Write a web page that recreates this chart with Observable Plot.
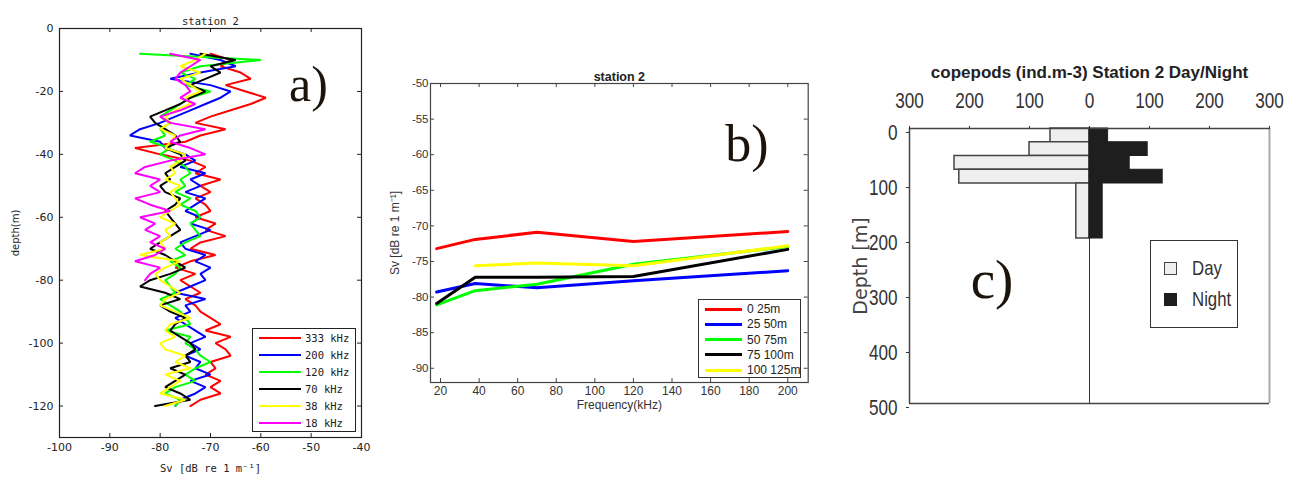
<!DOCTYPE html>
<html><head><meta charset="utf-8">
<script src="https://cdn.jsdelivr.net/npm/d3@7"></script>
<script src="https://cdn.jsdelivr.net/npm/@observablehq/plot@0.6"></script>
<style>
html,body{margin:0;padding:0;background:#fff;}
#page{position:relative;width:1291px;height:481px;overflow:hidden;background:#fff;}
.panel{position:absolute;top:0;}
.panel svg{background:transparent !important;}
.legend{position:absolute;box-sizing:border-box;background:#fff;}
.legend .sw{position:absolute;}
.legend .lb{position:absolute;white-space:nowrap;transform-origin:0 50%;}
</style></head><body><div id="page"></div>
<script>
// ---------- Panel a: Sv profiles by frequency ----------
const depthA = [-8,-10,-12,-14,-16,-18,-20,-22,-24,-26,-28,-30,-32,-34,-36,-38,-40,-42,-44,-46,-48,-50,-52,-54,-56,-58,-60,-62,-64,-66,-68,-70,-72,-74,-76,-78,-80,-82,-84,-86,-88,-90,-92,-94,-96,-98,-100,-102,-104,-106,-108,-110,-112,-114,-116,-118,-120];
const freqA = ["333 kHz","200 kHz","120 kHz","70 kHz","38 kHz","18 kHz"];
const colorsA = ["#ff0000","#0000ff","#00ff00","#000000","#ffff00","#ff00ff"];
const sv333 = [-70,-66,-68,-64,-62,-67,-63,-59,-62,-66,
  -70,-73,-67,-72,-75,-85,-80,-74,-71,-73,
  -68,-72,-70,-73,-71,-70,-73,-69,-71,-67,
  -72,-74,-69,-74,-77,-73,-76,-74,-72,-75,
  -73,-72,-70,-68,-71,-66,-69,-67,-66,-70,
  -69,-71,-68,-70,-68,-72,-74];
const sv200 = [-74,-68,-65,-72,-78,-70,-66,-68,-71,-74,
  -77,-80,-84,-86,-80,-79,-75,-73,-76,-71,
  -74,-72,-75,-71,-73,-75,-72,-74,-70,-73,
  -76,-75,-71,-73,-70,-72,-71,-74,-77,-71,
  -75,-74,-77,-75,-73,-71,-74,-72,-75,-72,
  -73,-70,-74,-71,-73,-76,-77];
const sv120 = [-84,-60,-72,-76,-73,-75,-70,-74,-76,-78,
  -80,-78,-80,-79,-82,-78,-80,-77,-75,-74,
  -76,-75,-77,-74,-76,-73,-72,-74,-73,-72,
  -75,-77,-75,-78,-76,-77,-79,-78,-77,-80,
  -78,-76,-75,-74,-79,-74,-75,-73,-72,-70,
  -73,-75,-73,-77,-79,-76,-77];
const sv70 = [-72,-65,-70,-68,-71,-74,-71,-74,-76,-79,
  -82,-81,-79,-77,-76,-79,-76,-75,-77,-79,
  -78,-80,-79,-76,-77,-79,-78,-77,-76,-78,
  -80,-82,-79,-77,-75,-78,-82,-84,-79,-76,
  -80,-78,-75,-77,-78,-76,-74,-73,-75,-74,
  -78,-75,-77,-79,-76,-74,-81];
const sv38 = [-71,-73,-76,-72,-76,-74,-72,-75,-74,-77,
  -79,-78,-80,-77,-78,-79,-75,-76,-78,-77,
  -79,-76,-78,-77,-76,-78,-80,-77,-79,-78,
  -80,-79,-84,-76,-79,-81,-80,-78,-76,-79,
  -80,-77,-74,-78,-79,-77,-80,-79,-75,-77,
  -74,-79,-76,-78,-80,-75,-79];
const sv18 = [-78,-72,-74,-76,-77,-75,-74,-76,-73,-76,
  -80,-78,-71,-76,-78,-74,-71,-78,-83,-85,
  -80,-82,-80,-85,-82,-78,-84,-81,-83,-80,
  -82,-79,-81,-85,-80,-82,-83];
const xTicksA = [-100,-90,-80,-70,-60,-50,-40];
const yTicksA = [0,-20,-40,-60,-80,-100,-120];

// ---------- Panel b: mean Sv vs frequency by layer ----------
const freqB = [18,38,70,120,200];
const layersB = ["0 25m","25 50m","50 75m","75 100m","100 125m"];
const colorsB = ["#ff0000","#0000ff","#00ff00","#000000","#ffff00"];
const svL0 = [-73.2,-71.9,-70.9,-72.2,-70.8];
const svL1 = [-79.3,-78.1,-78.7,-77.7,-76.3];
const svL2 = [-81.1,-79.1,-78.2,-75.4,-72.9];
const svL3 = [-80.9,-77.2,-77.2,-77.1,-73.3];
const svL4 = [null,-75.6,-75.2,-75.6,-72.8];
const xTicksB = [20,40,60,80,100,120,140,160,180,200];
const yTicksB = [-50,-55,-60,-65,-70,-75,-80,-85,-90];

// ---------- Panel c: copepods day/night ----------
const binTop = [0,25,50,75,100];
const binBottom = [25,50,75,100,200];
const dayC = [65,100,225,217,22];
const nightC = [31,97,67,122,22];
const xTicksC = [-300,-200,-100,0,100,200,300];
const yTicksC = [0,100,200,300,400,500];

const page = document.getElementById("page");
function place(node, left, width){
  const d = document.createElement("div");
  d.className = "panel"; d.style.left = left + "px"; d.style.width = width + "px";
  d.appendChild(node); page.appendChild(d);
}
const hy = d => String(d);
const serif = "'Liberation Serif', 'DejaVu Serif', serif";
const ink = "#1c140a";

// inward tick marks drawn as short rules against the frame edges
function inwardTicks(xt, yt, fw, fh, len, stroke){
  return [
    Plot.ruleX(xt, {insetTop: fh - len, stroke, strokeWidth: 1}),
    Plot.ruleX(xt, {insetBottom: fh - len, stroke, strokeWidth: 1}),
    Plot.ruleY(yt, {insetRight: fw - len, stroke, strokeWidth: 1}),
    Plot.ruleY(yt, {insetLeft: fw - len, stroke, strokeWidth: 1})
  ];
}

// Panel a
const rowsA = [sv333, sv200, sv120, sv70, sv38, sv18].flatMap((arr, i) =>
  arr.map((v, j) => ({freq: freqA[i], sv: v, depth: depthA[j]})));
const monoA = "'DejaVu Sans Mono', monospace";
const plotA = Plot.plot({
  width: 380, height: 481,
  marginLeft: 59, marginRight: 19, marginTop: 28, marginBottom: 44,
  x: {domain: [-100, -40]},
  y: {domain: [-130, 0]},
  color: {domain: freqA, range: colorsA},
  style: {fontFamily: "'DejaVu Sans', sans-serif", fontSize: "11px", color: "#222", background: "transparent"},
  marks: [
    Plot.line(rowsA, {x: "sv", y: "depth", z: "freq", stroke: "freq", strokeWidth: 2, strokeLinejoin: "miter"}),
    ...inwardTicks(xTicksA, yTicksA, 302, 409, 4, "#222"),
    Plot.frame({stroke: "#222", strokeWidth: 1.2}),
    Plot.axisX({anchor: "bottom", ticks: xTicksA, tickSize: 0, tickPadding: 6, tickFormat: hy, label: null}),
    Plot.axisY({anchor: "left", ticks: yTicksA, tickSize: 0, tickPadding: 6, tickFormat: hy, label: null}),
    Plot.text(["station 2"], {frameAnchor: "top", dy: -11, fontFamily: monoA, fontSize: 10.5}),
    Plot.text(["Sv [dB re 1 m\u207B\u00B9]"], {frameAnchor: "bottom", dy: 34, fontFamily: monoA, fontSize: 10.5}),
    Plot.text(["depth(m)"], {frameAnchor: "left", dx: -44, rotate: -90, textAnchor: "middle", fontSize: 10}),
    Plot.text(["a)"], {frameAnchor: "top-left", dx: 249, dy: 72, lineAnchor: "bottom", textAnchor: "middle", fontFamily: serif, fontSize: 50, fill: ink})
  ]
});
place(plotA, 0, 380);

// Panel b
const rowsB = [svL0, svL1, svL2, svL3, svL4].flatMap((arr, i) =>
  arr.map((v, j) => ({layer: layersB[i], f: freqB[j], sv: v})).filter(d => d.sv != null));
const sansB = "'Liberation Sans', Arial, sans-serif";
const plotB = Plot.plot({
  width: 450, height: 481,
  marginLeft: 50, marginRight: 22.3, marginTop: 83, marginBottom: 99,
  x: {domain: [14.8, 210.6]},
  y: {domain: [-92, -50]},
  color: {domain: layersB, range: colorsB},
  style: {fontFamily: sansB, fontSize: "11.5px", color: "#333", background: "transparent"},
  marks: [
    Plot.line(rowsB, {x: "f", y: "sv", z: "layer", stroke: "layer", strokeWidth: 3}),
    ...inwardTicks(xTicksB, yTicksB, 377.7, 299, 4, "#444"),
    Plot.frame({stroke: "#444", strokeWidth: 1.2}),
    Plot.axisX({anchor: "bottom", ticks: xTicksB, tickSize: 0, tickPadding: 4, tickFormat: hy, label: null, fontSize: 12}),
    Plot.axisY({anchor: "left", ticks: yTicksB, tickSize: 0, tickPadding: 2, tickFormat: hy, label: null}),
    Plot.text(["station 2"], {frameAnchor: "top", dy: -11, fontWeight: "bold", fontSize: 12.5, fill: "#222"}),
    Plot.text(["Frequency(kHz)"], {frameAnchor: "bottom", dy: 26, fontSize: 12, fill: "#333"}),
    Plot.text(["Sv [dB re 1 m\u207B\u00B9]"], {frameAnchor: "left", dx: -35, rotate: -90, textAnchor: "middle", fontSize: 12, fill: "#333"}),
    Plot.text(["b)"], {frameAnchor: "top-left", dx: 316.5, dy: 77, lineAnchor: "bottom", textAnchor: "middle", fontFamily: serif, fontSize: 52, fill: ink})
  ]
});
place(plotB, 380, 450);

// Panel c
const rowsC = binTop.map((t, i) => ({top: t, bottom: binBottom[i], day: dayC[i], night: nightC[i]}));
const sansC = "'Liberation Sans', Arial, sans-serif";
const plotC = Plot.plot({
  width: 451, height: 481,
  marginLeft: 69, marginRight: 22, marginTop: 128, marginBottom: 78,
  x: {domain: [-300, 300]},
  y: {domain: [0, 500], reverse: true},
  style: {fontFamily: sansC, fontSize: "22px", color: "#333", background: "transparent"},
  marks: [
    Plot.ruleX([0], {stroke: "#333", strokeWidth: 1}),
    Plot.rect(rowsC, {x1: 0, x2: d => -d.day, y1: "top", y2: "bottom", fill: "#efefef", stroke: "#444", strokeWidth: 1.5}),
    Plot.rect(rowsC, {x1: 0, x2: "night", y1: "top", y2: "bottom", fill: "#1e1e1e", stroke: "#1e1e1e", strokeWidth: 1}),
    Plot.ruleX([xTicksC[xTicksC.length - 1]], {stroke: "#aaa", strokeWidth: 2}),
    Plot.ruleX([xTicksC[0]], {stroke: "#444", strokeWidth: 1.5}),
    Plot.ruleY([yTicksC[0]], {stroke: "#444", strokeWidth: 1.5}),
    Plot.ruleY([yTicksC[yTicksC.length - 1]], {stroke: "#444", strokeWidth: 1.5}),
    Plot.axisX({anchor: "top", ticks: xTicksC, tickSize: 3, tickPadding: 18, tickFormat: d => String(Math.abs(d)), label: null}),
    Plot.axisY({anchor: "left", ticks: yTicksC, tickSize: 3, tickPadding: 9, dy: 4, tickFormat: hy, label: null}),
    Plot.text(["copepods (ind.m-3) Station 2 Day/Night"], {frameAnchor: "top", dy: -63, fontWeight: "bold", fontSize: 17, fill: "#222"}),
    Plot.text(["Depth [m]"], {frameAnchor: "left", dx: -49, rotate: -90, textAnchor: "middle", fontFamily: "'DejaVu Sans', sans-serif", fontSize: 19, fill: "#444"}),
    Plot.text(["c)"], {frameAnchor: "top-left", dx: 82.5, dy: 169, lineAnchor: "bottom", textAnchor: "middle", fontFamily: serif, fontSize: 55, fill: ink})
  ]
});
place(plotC, 840, 451);

// narrow look of panel c tick labels (the original uses a condensed face)
plotC.querySelectorAll("g[aria-label^='y-axis tick label'] text, g[aria-label^='x-axis tick label'] text").forEach(t => {
  const L = t.getComputedTextLength();
  if (L > 0) {
    t.setAttribute("textLength", (L * 0.78).toFixed(1));
    t.setAttribute("lengthAdjust", "spacingAndGlyphs");
  }
});

// Legends (HTML)
function legend(box, items, opts){
  const d = document.createElement("div");
  d.className = "legend";
  Object.assign(d.style, {left: box[0] + "px", top: box[1] + "px", width: box[2] + "px", height: box[3] + "px", border: opts.border});
  items.forEach((it, i) => {
    const cy = opts.y0 + opts.step * i;
    const sw = document.createElement("div");
    sw.className = "sw";
    Object.assign(sw.style, {left: opts.swX + "px", top: (cy - opts.swH / 2) + "px", width: opts.swW + "px", height: opts.swH + "px", background: it.color, boxSizing: "border-box", border: it.border || "none"});
    d.appendChild(sw);
    const lb = document.createElement("div");
    lb.className = "lb";
    lb.textContent = it.label;
    Object.assign(lb.style, {left: opts.txX + "px", top: cy + "px", font: opts.font, color: opts.color, transform: "translateY(-50%) scaleX(" + (opts.sx || 1) + ")"});
    d.appendChild(lb);
  });
  page.appendChild(d);
}
legend([252, 328, 104, 104], freqA.map((f, i) => ({label: f, color: colorsA[i]})),
  {border: "1px solid #222", y0: 9, step: 17, swX: 6, swW: 42, swH: 2.2, txX: 52, font: "10.5px 'DejaVu Sans Mono', monospace", color: "#222"});
legend([698, 299, 103, 79], layersB.map((l, i) => ({label: l, color: colorsB[i]})),
  {border: "1px solid #333", y0: 9, step: 15.3, swX: 6, swW: 37, swH: 3, txX: 48, font: "12px 'Liberation Sans', Arial, sans-serif", color: "#222"});
legend([1150, 240, 88, 88], [{label: "Day", color: "#efefef", border: "1.5px solid #444"}, {label: "Night", color: "#1e1e1e"}],
  {border: "1.5px solid #333", y0: 27, step: 31, swX: 13, swW: 13, swH: 13, txX: 41, font: "21px 'Liberation Sans', Arial, sans-serif", color: "#333", sx: 0.8});
</script></body></html>
